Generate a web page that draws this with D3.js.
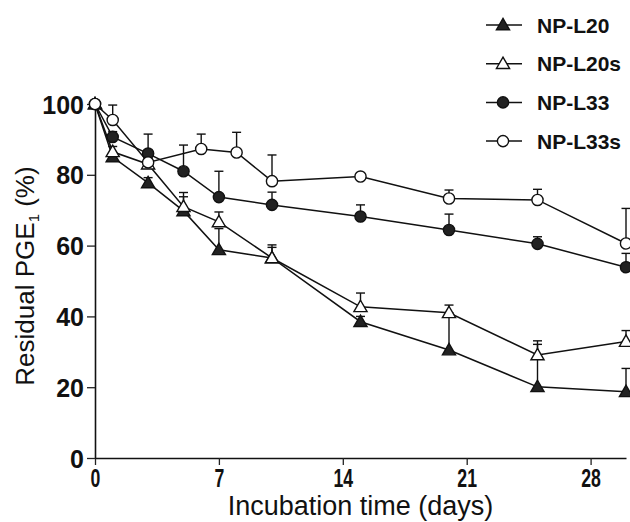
<!DOCTYPE html>
<html>
<head>
<meta charset="utf-8">
<script src="https://cdn.jsdelivr.net/npm/d3@7"></script>
<style>
  body { margin: 0; background: #fff; }
  svg { display: block; font-family: "Liberation Sans", Arial, sans-serif; }
</style>
</head>
<body>
<div id="chart"></div>
<script>
var days = [0, 1, 3, 5, 7, 10, 15, 20, 25, 30];
var daysL33s = [0, 1, 3, 6, 8, 10, 15, 20, 25, 30];

var npL20 = [100, 85, 77.7, 69.8, 58.8, 56.5, 38.5, 30.5, 20.1, 18.7];
var npL20Err = [0, 1, 1.5, 4, 6, 3, 1.5, 10.5, 12, 6.6];
var npL20s = [100, 86.5, 83, 71, 66.7, 56.5, 42.7, 41, 29.1, 32.9];
var npL20sErr = [0, 1.5, 1.5, 4, 2.8, 3.7, 3.9, 2.2, 4, 3.1];
var npL33 = [100, 90.7, 86, 81, 73.7, 71.5, 68.2, 64.4, 60.5, 53.9];
var npL33Err = [0, 1.5, 5.5, 7.4, 7.3, 3.6, 3.3, 4.5, 2, 3.9];
var npL33s = [100, 95.5, 83.5, 87.3, 86.3, 78.2, 79.5, 73.3, 72.9, 60.6];
var npL33sErr = [0, 4.2, 1, 4.2, 5.7, 7.4, 0, 2.4, 3, 9.9];

var xTicks = [0, 7, 14, 21, 28];
var yTicks = [0, 20, 40, 60, 80, 100];

var width = 630, height = 522;
var margin = {top: 104, right: 4, bottom: 64, left: 95};

var series = [
  {name: "NP-L20", x: days, y: npL20, err: npL20Err, shape: "tri", fill: "#222"},
  {name: "NP-L20s", x: days, y: npL20s, err: npL20sErr, shape: "tri", fill: "#fff"},
  {name: "NP-L33", x: days, y: npL33, err: npL33Err, shape: "circ", fill: "#222"},
  {name: "NP-L33s", x: daysL33s, y: npL33s, err: npL33sErr, shape: "circ", fill: "#fff"}
];

var svg = d3.select("#chart").append("svg")
    .attr("width", width)
    .attr("height", height);

var x = d3.scaleLinear().domain([0, 30]).range([margin.left, width - margin.right]);
var y = d3.scaleLinear().domain([0, 100]).range([height - margin.bottom, margin.top]);

// axes
var xAxis = svg.append("g")
    .attr("transform", "translate(0," + y(0) + ")")
    .call(d3.axisBottom(x).tickValues(xTicks).tickSize(7).tickSizeOuter(0));
xAxis.selectAll("text").remove();
xAxis.selectAll("line").attr("stroke", "#222").attr("stroke-width", 1.3);
xAxis.select(".domain").attr("stroke", "#111").attr("stroke-width", 1.6);

// x labels are tall and narrow in the scan
xAxis.selectAll(".tick").append("text")
    .attr("fill", "#111")
    .attr("font-weight", "bold")
    .attr("font-size", 26)
    .attr("text-anchor", "middle")
    .attr("transform", "translate(0,29) scale(0.68,1)")
    .text(function(d) { return d; });

var yAxis = svg.append("g")
    .attr("transform", "translate(" + x(0) + ",0)")
    .call(d3.axisLeft(y).tickValues(yTicks).tickSize(8).tickSizeOuter(0));
yAxis.selectAll("line").attr("stroke", "#222").attr("stroke-width", 1.3);
yAxis.select(".domain").attr("stroke", "#111").attr("stroke-width", 1.6);
yAxis.selectAll("text")
    .attr("fill", "#111")
    .attr("font-weight", "bold")
    .attr("font-size", 25)
    .attr("x", -11)
    .attr("dy", "0.36em");

// axis titles
svg.append("text")
    .attr("x", (x(0) + x(30)) / 2)
    .attr("y", 515)
    .attr("text-anchor", "middle")
    .attr("font-size", 27)
    .attr("fill", "#111")
    .text("Incubation time (days)");

var yTitle = svg.append("text")
    .attr("transform", "translate(34," + 276 + ") rotate(-90)")
    .attr("text-anchor", "middle")
    .attr("font-size", 26)
    .attr("fill", "#111");
yTitle.append("tspan").text("Residual PGE");
yTitle.append("tspan").attr("font-size", 15).attr("dy", 5).text("1");
yTitle.append("tspan").attr("dy", -5).text(" (%)");

function marker(g, shape, fill) {
  if (shape === "tri") {
    g.append("path")
        .attr("d", d3.symbol().type(d3.symbolTriangle).size(75))
        .attr("transform", "translate(0,1)")
        .attr("fill", fill)
        .attr("stroke", "#111")
        .attr("stroke-width", 1.4);
  } else {
    g.append("circle")
        .attr("r", 5.6)
        .attr("fill", fill)
        .attr("stroke", "#111")
        .attr("stroke-width", 1.4);
  }
}

var line = d3.line()
    .x(function(d) { return x(d[0]); })
    .y(function(d) { return y(d[1]); });

series.forEach(function(s) {
  var pts = s.x.map(function(d, i) { return [d, s.y[i], s.err[i]]; });
  var g = svg.append("g").attr("class", "series");

  g.append("path")
      .datum(pts)
      .attr("d", line)
      .attr("fill", "none")
      .attr("stroke", "#111")
      .attr("stroke-width", 1.5);

  // upper error bars only
  var eb = g.selectAll(".err")
      .data(pts.filter(function(p) { return p[2] > 0; }))
      .enter().append("g")
      .attr("class", "err");
  eb.append("line")
      .attr("x1", function(p) { return x(p[0]); })
      .attr("x2", function(p) { return x(p[0]); })
      .attr("y1", function(p) { return y(p[1]); })
      .attr("y2", function(p) { return y(p[1] + p[2]); })
      .attr("stroke", "#111").attr("stroke-width", 1.4);
  eb.append("line")
      .attr("x1", function(p) { return x(p[0]) - 4.5; })
      .attr("x2", function(p) { return x(p[0]) + 4.5; })
      .attr("y1", function(p) { return y(p[1] + p[2]); })
      .attr("y2", function(p) { return y(p[1] + p[2]); })
      .attr("stroke", "#111").attr("stroke-width", 1.4);

  g.selectAll(".pt")
      .data(pts)
      .enter().append("g")
      .attr("class", "pt")
      .attr("transform", function(p) { return "translate(" + x(p[0]) + "," + y(p[1]) + ")"; })
      .each(function() { marker(d3.select(this), s.shape, s.fill); });
});

// legend
var legend = svg.append("g").attr("transform", "translate(486,25)");
var item = legend.selectAll(".item")
    .data(series)
    .enter().append("g")
    .attr("class", "item")
    .attr("transform", function(d, i) { return "translate(0," + (i * 38.7) + ")"; });
item.append("line")
    .attr("x1", 0).attr("x2", 36)
    .attr("stroke", "#111").attr("stroke-width", 1.5);
item.append("g")
    .attr("transform", "translate(17,0)")
    .each(function(d) { marker(d3.select(this), d.shape, d.fill); });
item.append("text")
    .attr("x", 51)
    .attr("dy", "0.36em")
    .attr("font-size", 21)
    .attr("font-weight", "bold")
    .attr("fill", "#111")
    .text(function(d) { return d.name; });
</script>
</body>
</html>
